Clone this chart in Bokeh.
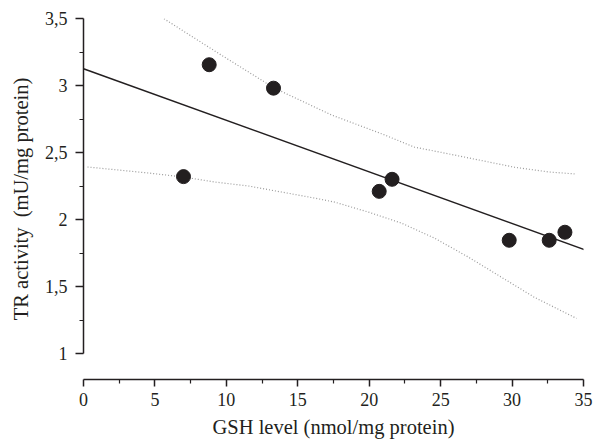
from bokeh.plotting import figure
from bokeh.models import FixedTicker, Range1d
from bokeh.embed import file_html
from bokeh.resources import INLINE

# data points
gsh = [7.0, 8.8, 13.3, 20.7, 21.6, 29.8, 32.6, 33.7]
tr = [2.32, 3.155, 2.98, 2.21, 2.30, 1.845, 1.845, 1.905]

# regression line endpoints
fit_x = [0.0, 35.2]
fit_y = [3.125, 1.77]

# upper confidence band
up_x = [5.46, 9.3, 13.37, 17.36, 20.86, 23.17, 25.55, 27.86, 30.17, 32.55, 34.37]
up_y = [3.51, 3.25, 2.98, 2.78, 2.64, 2.54, 2.49, 2.44, 2.39, 2.355, 2.34]

# lower confidence band
lo_x = [0.28, 4.55, 7.0, 9.17, 11.55, 13.86, 16.17, 17.57, 19.95, 22.26, 24.57, 26.95, 29.26, 31.57, 34.51]
lo_y = [2.392, 2.347, 2.317, 2.28, 2.25, 2.205, 2.16, 2.13, 2.055, 1.973, 1.861, 1.719, 1.569, 1.419, 1.262]

x_ticks = [0, 5, 10, 15, 20, 25, 30, 35]
x_minor = [2.5, 7.5, 12.5, 17.5, 22.5, 27.5, 32.5]
y_ticks = [1, 1.5, 2, 2.5, 3, 3.5]
y_tick_labels = ["1", "1,5", "2", "2,5", "3", "3,5"]
y_minor = [1.25, 1.75, 2.25, 2.75, 3.25]

ink = "#231f20"
font = "Liberation Serif"

p = figure(width=595, height=441, output_backend="svg", toolbar_location=None,
           x_range=Range1d(0, 35), y_range=Range1d(0.806, 3.5),
           min_border_left=83, min_border_right=12, min_border_top=18, min_border_bottom=62)
p.outline_line_color = None
p.grid.visible = False

p.line(up_x, up_y, line_color="#9a9a9a", line_width=1.2, line_dash="1 2")
p.line(lo_x, lo_y, line_color="#9a9a9a", line_width=1.2, line_dash="1 2")
p.line(fit_x, fit_y, line_color=ink, line_width=1.5)
p.scatter(gsh, tr, size=14, fill_color=ink, line_color=ink)

xa = p.xaxis[0]
xa.ticker = FixedTicker(ticks=x_ticks, minor_ticks=x_minor)
xa.bounds = (0, 35)
xa.axis_label = "GSH level (nmol/mg protein)"
xa.major_tick_out = 7
xa.major_tick_in = 0
xa.minor_tick_out = 4
xa.minor_tick_in = 0
xa.major_label_standoff = 6
xa.axis_label_standoff = 7

ya = p.yaxis[0]
ya.ticker = FixedTicker(ticks=y_ticks, minor_ticks=y_minor)
ya.major_label_overrides = {t: l for t, l in zip(y_ticks, y_tick_labels)}
ya.bounds = (1, 3.5)
ya.axis_label = "TR activity\u00a0 (mU/mg protein)"
ya.major_tick_out = 8
ya.major_tick_in = 0
ya.minor_tick_out = 4
ya.minor_tick_in = 0
ya.major_label_standoff = 8
ya.axis_label_standoff = 10
ya.major_label_orientation = "horizontal"

for ax in (xa, ya):
    ax.axis_line_color = ink
    ax.axis_line_width = 1.5
    ax.major_tick_line_color = ink
    ax.major_tick_line_width = 1.5
    ax.minor_tick_line_color = ink
    ax.minor_tick_line_width = 1.2
    ax.major_label_text_font = font
    ax.major_label_text_font_size = "18px"
    ax.major_label_text_color = ink
    ax.axis_label_text_font = font
    ax.axis_label_text_font_size = "20.5px"
    ax.axis_label_text_font_style = "normal"
    ax.axis_label_text_color = ink

open("out.html", "w").write(file_html(p, INLINE))
